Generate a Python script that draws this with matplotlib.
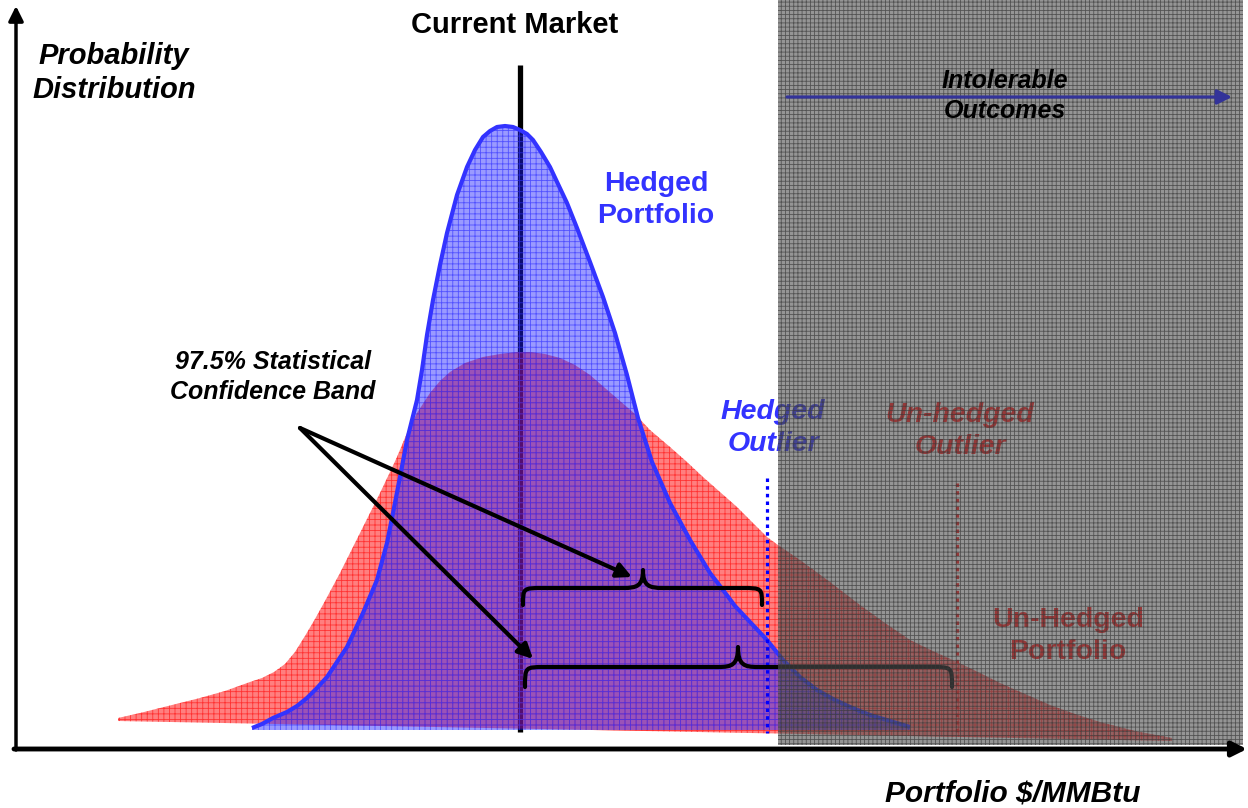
import numpy as np
import matplotlib as mpl
import matplotlib.pyplot as plt
from matplotlib.path import Path
from matplotlib.patches import PathPatch, Rectangle

mpl.rcParams['font.family'] = ['Liberation Sans', 'DejaVu Sans']
mpl.rcParams['hatch.linewidth'] = 0.6

# chart space: pixel-like units, y grows downward (0 = top)
# un-hedged portfolio distribution (top edge, then base corners right->left)
red_x = [118, 140, 160, 180, 200, 225, 250, 262, 274, 285, 295, 305, 315, 325, 340, 350,
         360, 370, 380, 390, 397, 407, 417, 430, 440, 450, 465, 483, 500, 517, 530, 545,
         560, 575, 590, 605, 620, 635, 650, 670, 687, 703, 720, 737, 752, 767, 778,
         800, 830, 860, 885, 910, 935, 957, 980, 1000, 1025, 1050, 1075, 1100, 1135, 1172]
red_y = [718, 713, 708, 703, 698, 691, 682, 678, 672, 664, 652, 636, 619, 601, 573, 553,
         533, 513, 493, 472, 457, 433, 413, 393, 381, 372, 363, 357, 354, 352, 352, 354,
         358, 365, 375, 388, 401, 414, 430, 447, 462, 477, 492, 507, 522, 537, 545,
         560, 582, 605, 623, 640, 652, 662, 673, 683, 694, 705, 714, 722, 731, 738]
red_base_x = [1172, 118]
red_base_y = [741, 721]

# hedged portfolio distribution
blue_x = [252, 262, 273, 287, 297, 307, 317, 327, 347, 363, 377, 387, 393, 400, 407, 417,
          422, 427, 433, 440, 447, 457, 467, 475, 483, 490, 497, 505, 513, 520, 527, 533,
          541, 550, 558, 567, 577, 590, 603, 615, 627, 638, 652, 670, 690, 710, 723, 735,
          750, 767, 783, 800, 817, 833, 850, 870, 890, 910]
blue_y = [728, 724, 718, 712, 706, 698, 688, 677, 647, 613, 580, 543, 513, 477, 440, 400,
          370, 335, 300, 265, 233, 195, 167, 150, 137, 131, 127, 126, 127, 130, 134, 140,
          152, 167, 184, 203, 228, 262, 297, 333, 375, 418, 462, 503, 540, 573, 590, 606,
          622, 640, 660, 677, 690, 699, 707, 715, 721, 727]
blue_base_x = [910, 252]
blue_base_y = [730, 730]

market_x = 520
hedged_outlier_x = 767
unhedged_outlier_x = 957
intolerable_x0 = 778

# confidence bands: (left, right, level, tip x, tip y, end y)
bands = [(523, 762, 588, 643, 570, 605),
         (525, 952, 667, 738, 647, 687)]

fig = plt.figure(figsize=(12.48, 8.08), dpi=100)
ax = fig.add_axes([0, 0, 1, 1])
ax.set_xlim(0, 1248)
ax.set_ylim(808, 0)
ax.axis('off')

# current market line (under the fills)
ax.plot([market_x, market_x], [65, 732], color='black', lw=3.8, zorder=1, solid_capstyle='butt')

ax.fill(red_x + red_base_x, red_y + red_base_y, facecolor=(1, 0, 0, 0.5),
        edgecolor=(1, 0, 0, 0.6), hatch='+++', lw=0, zorder=2)
ax.fill(blue_x + blue_base_x, blue_y + blue_base_y, facecolor=(0.12, 0.12, 1, 0.45),
        edgecolor=(0.2, 0.2, 1, 0.7), hatch='+++', lw=0, zorder=3)
ax.plot(blue_x, blue_y, color='#3333ff', lw=3, zorder=4, solid_capstyle='butt',
        solid_joinstyle='round')

# outlier markers
ax.plot([hedged_outlier_x] * 2, [478, 733], color='#0000ff', lw=2.3, ls=(0, (1.1, 1.3)), zorder=5)
ax.plot([unhedged_outlier_x] * 2, [483, 733], color='#ff1a1a', lw=2.3, ls=(0, (1.1, 1.3)), zorder=5)


def brace(x0, x1, y, tx, ty, ey):
    r = 20
    verts = [(x0, ey), (x0, y), (x0, y), (x0 + r, y),
             (tx - r, y),
             (tx - 6, y), (tx, y - 2), (tx, ty),
             (tx, y - 2), (tx + 6, y), (tx + r, y),
             (x1 - r, y),
             (x1, y), (x1, y), (x1, ey)]
    codes = [Path.MOVETO, Path.CURVE4, Path.CURVE4, Path.CURVE4,
             Path.LINETO,
             Path.CURVE4, Path.CURVE4, Path.CURVE4,
             Path.CURVE4, Path.CURVE4, Path.CURVE4,
             Path.LINETO,
             Path.CURVE4, Path.CURVE4, Path.CURVE4]
    return PathPatch(Path(verts, codes), fill=False, lw=3, edgecolor='black', zorder=6,
                     capstyle='round', joinstyle='round')


for b in bands:
    ax.add_patch(brace(*b))

# labels that sit under the shaded region
ax.text(773, 428, 'Hedged\nOutlier', color='#3333ff', fontsize=20.5, fontweight='bold',
        fontstyle='italic', ha='center', va='center', linespacing=1.32, zorder=7)
ax.text(960, 431, 'Un-hedged\nOutlier', color='#ff1a1a', fontsize=20.5, fontweight='bold',
        fontstyle='italic', ha='center', va='center', linespacing=1.32, zorder=7)
ax.text(1068, 636, 'Un-Hedged\nPortfolio', color='#ff1a1a', fontsize=20.5, fontweight='bold',
        ha='center', va='center', linespacing=1.32, zorder=7)

# intolerable outcomes region
ax.add_patch(Rectangle((intolerable_x0, 0), 1243 - intolerable_x0, 745,
                       facecolor=(0.31, 0.31, 0.31, 0.6), edgecolor=(0.22, 0.22, 0.22, 0.7),
                       hatch='++++', lw=0, zorder=10))
ax.annotate('', xy=(1232, 97), xytext=(787, 97),
            arrowprops=dict(arrowstyle='-|>', color='#333399', lw=2.3, mutation_scale=22,
                            shrinkA=0, shrinkB=0), zorder=11)
ax.text(1005, 96, 'Intolerable\nOutcomes', fontsize=18, fontweight='bold', fontstyle='italic',
        ha='center', va='center', linespacing=1.3, zorder=12)

# axes
ax.annotate('', xy=(16, 6), xytext=(16, 750),
            arrowprops=dict(arrowstyle='-|>', color='black', lw=2.5, mutation_scale=22,
                            shrinkA=0, shrinkB=0), zorder=12)
ax.annotate('', xy=(1247, 749), xytext=(14, 749),
            arrowprops=dict(arrowstyle='-|>', color='black', lw=3.5, mutation_scale=22,
                            shrinkA=0, shrinkB=0), zorder=12)

ax.text(515, 25, 'Current Market', fontsize=21, fontweight='bold', ha='center', va='center')
ax.text(114, 73, 'Probability\nDistribution', fontsize=21, fontweight='bold', fontstyle='italic',
        ha='center', va='center', linespacing=1.3)
ax.text(656, 200, 'Hedged\nPortfolio', color='#3333ff', fontsize=20.5, fontweight='bold',
        ha='center', va='center', linespacing=1.3)
ax.text(273, 377, '97.5% Statistical\nConfidence Band', fontsize=18, fontweight='bold',
        fontstyle='italic', ha='center', va='center', linespacing=1.3)
ax.text(1013, 793, 'Portfolio $/MMBtu', fontsize=21.5, fontweight='bold', fontstyle='italic',
        ha='center', va='center')

# pointers from the confidence label
for tip in [(632, 577), (533, 659)]:
    ax.annotate('', xy=tip, xytext=(300, 428),
                arrowprops=dict(arrowstyle='-|>', color='black', lw=3, mutation_scale=22,
                                shrinkA=0, shrinkB=0), zorder=8)

plt.savefig('out.png', dpi=100)
